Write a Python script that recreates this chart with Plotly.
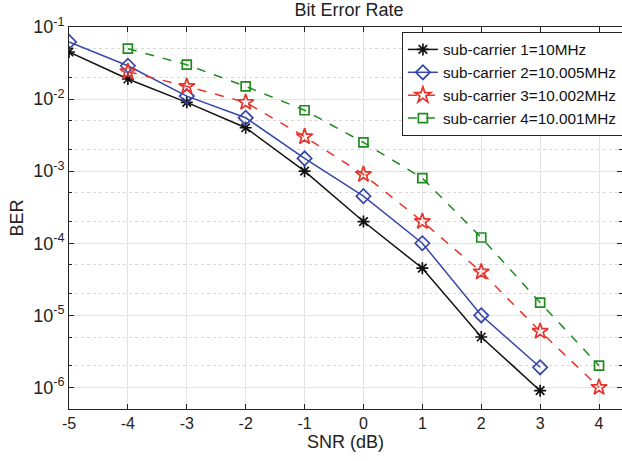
import plotly.graph_objects as go

snr1 = [-5, -4, -3, -2, -1, 0, 1, 2, 3]
ber1 = [0.045, 0.019, 0.009, 0.004, 0.001, 2.0e-4, 4.5e-5, 5.0e-6, 9.0e-7]
snr2 = [-5, -4, -3, -2, -1, 0, 1, 2, 3]
ber2 = [0.062, 0.029, 0.011, 0.0055, 0.0015, 4.5e-4, 1.0e-4, 1.0e-5, 1.9e-6]
snr3 = [-4, -3, -2, -1, 0, 1, 2, 3, 4]
ber3 = [0.024, 0.015, 0.009, 0.003, 9.0e-4, 2.0e-4, 4.0e-5, 6.0e-6, 1.0e-6]
snr4 = [-4, -3, -2, -1, 0, 1, 2, 3, 4]
ber4 = [0.05, 0.03, 0.015, 0.007, 2.5e-3, 8.0e-4, 1.2e-4, 1.5e-5, 2.0e-6]

names = ["sub-carrier 1=10MHz", "sub-carrier 2=10.005MHz",
         "sub-carrier 3=10.002MHz", "sub-carrier 4=10.001MHz"]
xticks = [-5, -4, -3, -2, -1, 0, 1, 2, 3, 4]
yexp = [-1, -2, -3, -4, -5, -6]

FONT = "Liberation Sans, Arial, Helvetica, sans-serif"

fig = go.Figure()
styles = [
    (snr1, ber1, "#111111", "solid", "asterisk-open", 10),
    (snr2, ber2, "#3647A8", "solid", "diamond-open", 11),
    (snr3, ber3, "#E8332A", "dash", "star-open", 12),
    (snr4, ber4, "#1E8C1E", "dash", "square-open", 9),
]
for (x, y, c, d, s, ms), n in zip(styles, names):
    fig.add_trace(go.Scatter(
        x=x, y=y, name=n, mode="lines+markers",
        line=dict(color=c, width=1.5, dash=d),
        marker=dict(symbol=s, size=ms, color=c, line=dict(width=1.7, color=c)),
    ))

fig.update_layout(
    width=622, height=461,
    margin=dict(l=69, r=0, t=27, b=52, autoexpand=False),
    paper_bgcolor="white", plot_bgcolor="white",
    font=dict(family=FONT, size=16, color="#222"),
    title=dict(text="Bit Error Rate", x=0.561, xanchor="center", y=0.993, yanchor="top",
               font=dict(size=18, color="#222")),
    showlegend=True,
    legend=dict(x=0.602, y=0.987, xanchor="left", yanchor="top",
                bgcolor="white", bordercolor="#222", borderwidth=1,
                font=dict(size=15.3, color="#111"), tracegroupgap=0,
                itemwidth=30),
    xaxis=dict(
        range=[-5, 4.39], tickvals=xticks, ticktext=[str(v) for v in xticks],
        title=dict(text="SNR (dB)", standoff=4, font=dict(size=18)),
        automargin=False,
        showgrid=True, gridcolor="#E3E3E3", gridwidth=1,
        showline=True, linecolor="#222", linewidth=1, mirror="ticks",
        ticks="inside", ticklen=5, tickcolor="#222", zeroline=False,
        tickfont=dict(size=16),
    ),
    yaxis=dict(
        type="log", range=[-6.3, -1],
        tickvals=[10 ** e for e in yexp],
        ticktext=["10<sup>%d</sup>" % e for e in yexp],
        title=dict(text="BER", standoff=4, font=dict(size=18)),
        automargin=False,
        showgrid=True, gridcolor="#E3E3E3", gridwidth=1,
        showline=True, linecolor="#222", linewidth=1, mirror="ticks",
        ticks="inside", ticklen=5, tickcolor="#222", zeroline=False,
        tickfont=dict(size=18),
        minor=dict(ticks="inside", ticklen=3, tickcolor="#222", showgrid=True,
                   gridcolor="#D8D8D8", griddash="dot", gridwidth=1),
    ),
)

fig.write_html("out.html", config={"displayModeBar": False},
               post_script="document.body.style.margin='0';")
